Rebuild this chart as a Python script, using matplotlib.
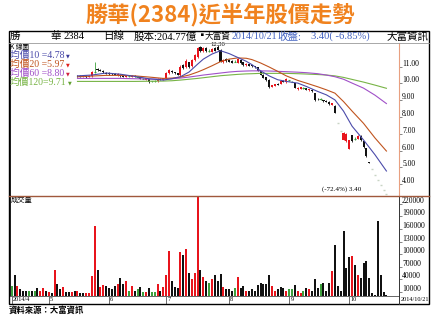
import matplotlib
matplotlib.use('Agg')
import numpy as np
import matplotlib.pyplot as plt
import matplotlib.transforms as mtransforms
from matplotlib.patches import Rectangle
from matplotlib.lines import Line2D

W, H = 440, 317
SERIF = ['Liberation Serif', 'Noto Sans CJK TC', 'DejaVu Sans']
CJK = ['Noto Sans CJK TC', 'DejaVu Sans']

# daily volume (thousand shares), 2014/4 .. 2014/10/21
volume = [25, 49, 25, 17, 11, 11, 11, 11, 13, 20,
          11, 18, 11, 9, 8, 63, 28, 17, 21, 9,
          9, 9, 11, 13, 6, 6, 6, 6, 48, 167,
          61, 21, 27, 25, 20, 17, 23, 28, 44, 29,
          36, 13, 25, 13, 16, 22, 10, 10, 18, 10,
          10, 28, 13, 21, 49, 108, 37, 21, 20, 104,
          99, 112, 56, 40, 55, 237, 63, 46, 35, 31,
          40, 49, 35, 53, 21, 17, 17, 11, 20, 46,
          19, 23, 13, 11, 17, 13, 27, 32, 28, 29,
          51, 24, 11, 17, 21, 20, 13, 17, 17, 27,
          11, 8, 11, 20, 17, 13, 40, 20, 28, 32,
          11, 32, 59, 122, 23, 11, 156, 67, 93, 95,
          74, 49, 44, 79, 84, 44, 6, 3, 179, 49,
          10, 2]
# r = up, k = down, g = flat
vol_dir = ("gkrkkkgkgk" "rrkrkrkkrk" "krkrkkrrrr" "krrkkkkrkk" "rgrkgkgrkg"
           "grkrrrkkkr" "krkrrrkrkg" "rkkkrkkkgr" "kkrkkkkkkk" "krrkkkrggk"
           "rrgkrkkkgk" "kkrkkkkkkr" "krkkkkkkkk" "kk")

# candles are visible from day 23 on (left part is under the legend)
start = 23
opens = [10.45, 10.42, 10.40, 10.45, 10.38, 10.42, 10.68, 10.85, 10.80, 10.72,
         10.65, 10.60, 10.58, 10.56, 10.48, 10.52, 10.42, 10.38, 10.44, 10.40,
         10.45, 10.38, 10.36, 10.28, 10.22, 10.24, 10.12, 10.14, 10.12, 10.26,
         10.20, 10.30, 10.62, 10.76, 10.66, 10.60, 10.50, 11.10, 10.95, 11.25,
         11.02, 11.40, 11.55, 12.18, 11.95, 12.10, 11.95, 11.90, 12.10, 12.20,
         12.02, 11.28, 11.45, 11.40, 11.32, 11.30, 11.22, 11.42, 11.25, 11.08,
         11.15, 11.08, 11.02, 10.95, 10.72, 10.52, 10.36, 10.20, 9.80, 9.86,
         9.96, 9.98, 10.16, 10.06, 10.18, 10.10, 10.00, 9.65, 9.68, 9.72,
         9.72, 9.58, 9.62, 9.42, 9.10, 9.06, 9.00, 8.98, 8.92, 8.72,
         8.68, 7.67, 7.14, 6.64, 6.55, 6.12, 6.90, 6.70, 6.70, 6.85,
         6.55, 6.15, 5.30, 4.88, 4.54, 4.22, 3.93, 3.65, 3.40]
highs = [10.50, 10.48, 10.50, 10.48, 10.50, 10.75, 11.30, 10.90, 10.85, 10.80,
         10.70, 10.66, 10.64, 10.60, 10.60, 10.58, 10.48, 10.50, 10.46, 10.50,
         10.48, 10.42, 10.40, 10.30, 10.32, 10.26, 10.16, 10.18, 10.30, 10.30,
         10.34, 10.68, 10.85, 10.80, 10.70, 10.62, 11.10, 11.18, 11.48, 11.30,
         11.45, 11.75, 12.20, 12.25, 12.15, 12.15, 12.05, 12.10, 12.15, 12.30,
         12.08, 11.45, 11.50, 11.45, 11.38, 11.40, 11.50, 11.46, 11.28, 11.22,
         11.18, 11.12, 11.06, 10.98, 10.76, 10.56, 10.40, 10.24, 9.92, 9.98,
         10.00, 10.20, 10.20, 10.32, 10.22, 10.14, 10.02, 9.78, 9.80, 9.76,
         9.74, 9.68, 9.64, 9.45, 9.14, 9.12, 9.04, 9.00, 8.95, 8.86,
         8.70, 7.67, 7.14, 7.10, 7.05, 6.65, 6.95, 6.78, 6.95, 6.90,
         6.58, 6.18, 5.32, 4.88, 4.54, 4.22, 3.93, 3.65, 3.40]
lows = [10.40, 10.38, 10.38, 10.35, 10.36, 10.40, 10.60, 10.75, 10.72, 10.65,
        10.55, 10.52, 10.50, 10.48, 10.46, 10.40, 10.36, 10.36, 10.40, 10.38,
        10.36, 10.34, 10.26, 10.24, 10.20, 10.05, 10.08, 10.10, 10.10, 10.18,
        10.18, 10.28, 10.58, 10.62, 10.58, 10.48, 10.46, 10.88, 10.92, 10.92,
        11.00, 11.35, 11.50, 11.90, 11.90, 11.88, 11.85, 11.88, 11.92, 11.98,
        11.25, 11.22, 11.30, 11.26, 11.20, 11.25, 11.20, 11.18, 11.05, 11.05,
        11.02, 10.98, 10.92, 10.72, 10.48, 10.30, 10.14, 9.72, 9.76, 9.82,
        9.88, 9.95, 10.08, 10.04, 10.12, 10.06, 9.70, 9.62, 9.66, 9.68,
        9.58, 9.55, 9.48, 8.98, 9.02, 9.00, 8.92, 8.88, 8.72, 8.70,
        8.22, 7.67, 7.14, 6.64, 6.52, 6.10, 6.50, 6.62, 6.68, 6.58,
        6.18, 5.60, 5.24, 4.88, 4.54, 4.22, 3.93, 3.65, 3.40]
closes = [10.42, 10.40, 10.45, 10.38, 10.46, 10.70, 10.68, 10.78, 10.75, 10.70,
          10.58, 10.55, 10.54, 10.50, 10.56, 10.44, 10.40, 10.46, 10.44, 10.47,
          10.38, 10.38, 10.28, 10.28, 10.30, 10.10, 10.12, 10.14, 10.26, 10.20,
          10.30, 10.62, 10.78, 10.66, 10.62, 10.52, 10.95, 10.92, 11.35, 11.00,
          11.40, 11.70, 12.10, 11.95, 12.10, 11.92, 11.95, 12.05, 11.96, 12.02,
          11.30, 11.40, 11.35, 11.30, 11.24, 11.30, 11.45, 11.22, 11.10, 11.18,
          11.06, 11.02, 10.96, 10.76, 10.52, 10.34, 10.18, 9.76, 9.88, 9.95,
          9.92, 10.15, 10.10, 10.26, 10.18, 10.10, 9.74, 9.75, 9.78, 9.72,
          9.60, 9.65, 9.52, 9.02, 9.05, 9.06, 8.96, 8.90, 8.76, 8.82,
          8.25, 7.67, 7.14, 7.02, 7.00, 6.60, 6.55, 6.70, 6.88, 6.62,
          6.22, 5.65, 5.26, 4.88, 4.54, 4.22, 3.93, 3.65, 3.40]

# moving averages at these days
ma_idx = [23, 28, 33, 38, 43, 48, 53, 56, 59, 62, 65, 67, 70, 73, 76, 79,
          82, 84, 87, 90, 93, 96, 100, 103, 107, 110, 113, 116, 119, 123, 127, 131]
ma10 = [10.45, 10.50, 10.62, 10.55, 10.42, 10.28, 10.20, 10.28, 10.40, 10.68,
        11.15, 11.45, 11.75, 11.95, 11.78, 11.55, 11.32, 11.12, 10.75, 10.45,
        10.22, 10.12, 10.02, 9.82, 9.52, 9.32, 9.02, 8.35, 7.45, 6.63, 5.75, 4.78]
ma20 = [10.40, 10.44, 10.48, 10.48, 10.45, 10.38, 10.30, 10.32, 10.38, 10.50,
        10.68, 10.82, 11.05, 11.30, 11.45, 11.52, 11.50, 11.42, 11.22, 10.98,
        10.72, 10.45, 10.18, 10.02, 9.80, 9.62, 9.42, 8.92, 8.35, 7.62, 6.75, 5.97]
ma60 = [10.30, 10.30, 10.30, 10.30, 10.28, 10.26, 10.26, 10.28, 10.32, 10.38,
        10.45, 10.50, 10.56, 10.62, 10.68, 10.72, 10.74, 10.75, 10.75, 10.74,
        10.72, 10.70, 10.67, 10.64, 10.58, 10.50, 10.40, 10.25, 10.02, 9.72, 9.30, 8.80]
ma120 = [10.12, 10.12, 10.12, 10.12, 10.12, 10.13, 10.14, 10.16, 10.20, 10.25,
         10.30, 10.34, 10.40, 10.46, 10.50, 10.54, 10.57, 10.58, 10.60, 10.60,
         10.60, 10.60, 10.58, 10.56, 10.53, 10.50, 10.45, 10.36, 10.24, 10.08, 9.90, 9.71]
ma_names = ['均價10 =4.78', '均價20 =5.97', '均價60 =8.80', '均價120=9.71']
ma_colors = ['#4B4BAA', '#C0541E', '#A050C8', '#78B446']
ma_arrow = ['#3A3A9A', '#E0201C', '#D02040', '#60A030']

month_idx = [0, 13, 34, 54, 76, 97, 118]
month_lbl = ['2014/4', '5', '6', '7', '8', '9', '10']
price_ticks = [4, 5, 6, 7, 8, 9, 10, 11]
vol_ticks = [10000, 40000, 70000, 100000, 130000, 160000, 190000, 220000]

RED, BLACK, GREEN, FAINT = '#E8141C', '#111111', '#3CA03C', '#C8D4C4'


def fx(px):
    return px / W


def fy(py):
    return 1 - py / H


fig = plt.figure(figsize=(W / 100, H / 100), dpi=100)

# title / header / footer
fig.text(0.5, fy(15), '勝華(2384)近半年股價走勢', ha='center', va='center',
         fontsize=16, fontweight='bold', color='#F0821E', family=CJK)
header = [(10, '勝', 'black', 7.6), (50, '華', 'black', 7.6), (64, '2384', 'black', 7.6),
          (103, '日線', 'black', 7.6), (134, '股本:204.77億', 'black', 7.6),
          (200.5, '▘', 'black', 3.8), (204.5, '大富資', 'black', 6.2),
          (231.5, '2014/10/21', '#4060C0', 7.2), (277, '收盤:', '#4060C0', 7.6),
          (311, '3.40( -6.85%)', '#4060C0', 7.6), (387, '大富資訊', 'black', 7.6)]
for x, s, c, fs in header:
    fig.text(fx(x), fy(36.5), s, ha='left', va='center', fontsize=fs,
             color=c, family=SERIF)
fig.text(fx(9), fy(310), '資料來源：大富資訊', ha='left', va='center',
         fontsize=6, fontweight='bold', color='black', family=CJK)

# frame and separators
fig.add_artist(Rectangle((fx(8.5), fy(304)), (429 - 8.5) / W, (304 - 30.5) / H,
                         fill=False, lw=1, ec='black', transform=fig.transFigure))
fig.add_artist(Line2D([fx(8.5), fx(429)], [fy(42.5)] * 2, color='#9A9A9A', lw=0.6))
fig.add_artist(Line2D([fx(9), fx(429)], [fy(195.5)] * 2, color='#A0583C', lw=1))
fig.add_artist(Line2D([fx(399), fx(399)], [fy(296), fy(304)], color='#333333', lw=0.7))

ax_p = fig.add_axes([fx(9.5), fy(195.5), (399 - 9.5) / W, (195.5 - 43) / H])
ax_v = fig.add_axes([fx(9.5), fy(296), (399 - 9.5) / W, (296 - 195.5) / H])
for ax in (ax_p, ax_v):
    ax.set_xlim(-0.77, 135.4)
    ax.set_xticks([])
    ax.set_facecolor('none')
    ax.spines['top'].set_visible(False)
    ax.spines['left'].set_color('black')
    ax.spines['left'].set_linewidth(1.2)
ax_p.spines['bottom'].set_visible(False)
ax_p.spines['right'].set_color('#E8A080')
ax_p.spines['right'].set_linewidth(0.8)
ax_v.spines['right'].set_color('#333333')
ax_v.spines['right'].set_linewidth(0.7)
ax_v.spines['bottom'].set_color('#666666')
ax_v.spines['bottom'].set_linewidth(0.7)
ax_p.set_ylim(3.32, 12.41)
ax_v.set_ylim(0, 240000)

# candles
xs = np.arange(start, start + len(closes))
for x, o, h, l, c in zip(xs, opens, highs, lows, closes):
    if h == l:
        ax_p.hlines(c, x - 0.35, x + 0.35, color=FAINT, lw=1)
        continue
    col = RED if c > o else (BLACK if c < o else GREEN)
    ax_p.vlines(x, l, h, color=col, lw=0.6)
    if c == o:
        ax_p.hlines(c, x - 0.4, x + 0.4, color=col, lw=0.8)
    else:
        ax_p.bar(x, abs(c - o), bottom=min(o, c), width=0.72, color=col, lw=0)

for vals, col in zip([ma120, ma60, ma20, ma10], ma_colors[::-1]):
    ax_p.plot(ma_idx, vals, color=col, lw=0.8)

ax_p.text(72, 12.30, '12.30', ha='center', va='center', fontsize=4.8, family=SERIF)
ax_p.text(108.5, 3.71, '(-72.4%) 3.40', ha='left', va='center', fontsize=5, family=SERIF)

# volume
vcol = {'r': RED, 'k': BLACK, 'g': GREEN}
ax_v.bar(np.arange(len(volume)), np.array(volume) * 1000, width=0.7,
         color=[vcol[d] for d in vol_dir], lw=0)
ax_v.text(0.004, 0.96, '成交量', transform=ax_v.transAxes, ha='left',
          va='center', fontsize=5.2, family=CJK)

# right axis labels (drawn a little above their value)
up = mtransforms.ScaledTranslation(0, 3 / 100, fig.dpi_scale_trans)
for ax, ticks, fmt in [(ax_p, price_ticks, '{:.2f}'), (ax_v, vol_ticks, '{:d}')]:
    tr = mtransforms.blended_transform_factory(ax.transAxes, ax.transData) + up
    for t in ticks:
        ax.text(1.008, t, fmt.format(t), transform=tr, ha='left', va='center',
                fontsize=5.5, family=SERIF)
    ax.yaxis.tick_right()
    ax.set_yticks(ticks)
    ax.tick_params(axis='y', length=2, width=0.5, color='#555555', labelright=False)

# month labels under the volume panel
trm = mtransforms.blended_transform_factory(ax_v.transData, ax_v.transAxes)
ax_v.vlines(month_idx, -0.075, 0, transform=trm, color='#555555', lw=0.6, clip_on=False)
for i, s in zip(month_idx, month_lbl):
    ax_v.text(i + 0.4, -0.037, s, transform=trm, ha='left', va='center',
              fontsize=4.5, family=SERIF)
fig.text(fx(400.5), fy(299.8), '2014/10/21', ha='left', va='center',
         fontsize=4.5, family=SERIF)

# legend block in the price panel
fig.text(fx(10), fy(46.5), 'K 線圖', ha='left', va='center', fontsize=4.8, family=CJK)
fig.canvas.draw()
rend = fig.canvas.get_renderer()
for k, (name, col) in enumerate(zip(ma_names, ma_colors)):
    y = fy(55 + k * 9)
    t = fig.text(fx(10), y, name, ha='left', va='center', fontsize=7,
                 color=col, family=SERIF)
    bb = t.get_window_extent(renderer=rend)
    fig.text(fx(bb.x1 + 1.5), y - 0.003, '▼', ha='left', va='center',
             fontsize=3.5, color=ma_arrow[k], family=['DejaVu Sans'])

fig.savefig('out.png', dpi=100, facecolor='white')
